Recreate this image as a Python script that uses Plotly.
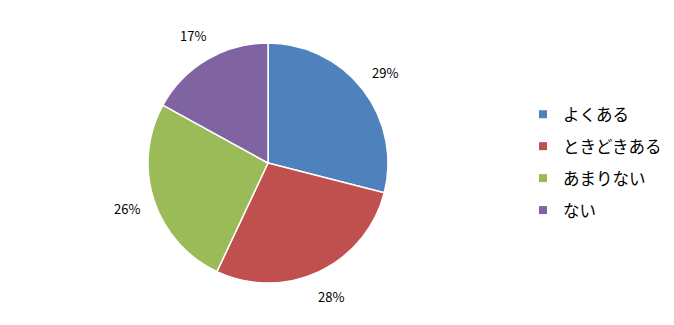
import math
import plotly.graph_objects as go

labels = ["よくある", "ときどきある", "あまりない", "ない"]
values = [29, 28, 26, 17]
colors = ["#4F81BD", "#C0504D", "#9BBB59", "#8064A2"]

W, H = 674, 325
cx, cy, R = 268, 163, 120
label_r = 148

fig = go.Figure(go.Pie(
    labels=labels, values=values, sort=False, direction="clockwise", rotation=0,
    marker=dict(colors=colors, line=dict(color="white", width=1.5)),
    textinfo="none", hoverinfo="label+percent", showlegend=False,
    domain=dict(x=[(cx - R) / W, (cx + R) / W], y=[1 - (cy + R) / H, 1 - (cy - R) / H]),
))

# legend entries (one group per category for Excel-like spacing)
for lab, col in zip(labels, colors):
    fig.add_trace(go.Scatter(
        x=[None], y=[None], mode="markers", name=lab, legendgroup=lab,
        marker=dict(symbol="square", size=8, color=col), hoverinfo="skip",
    ))

total = sum(values)
cum = 0
annotations = []
for v in values:
    mid = 90 - (cum + v / 2) / total * 360
    cum += v
    a = math.radians(mid)
    x = (cx + label_r * math.cos(a)) / W
    y = 1 - (cy - label_r * math.sin(a)) / H
    annotations.append(dict(x=x, y=y, xref="paper", yref="paper", showarrow=False,
                            xanchor="center", yanchor="middle",
                            text=f"{round(v / total * 100)}%",
                            font=dict(family="Noto Sans CJK JP", size=13, color="black")))

fig.update_layout(
    width=W, height=H, margin=dict(l=0, r=0, t=0, b=0),
    paper_bgcolor="white", plot_bgcolor="white",
    annotations=annotations,
    xaxis=dict(visible=False), yaxis=dict(visible=False),
    legend=dict(x=0.776, y=0.5, yanchor="middle", xanchor="left",
                font=dict(family="Noto Sans CJK JP", size=16.5, color="black"),
                tracegroupgap=7.5, itemwidth=30),
    showlegend=True,
)
fig.write_html("out.html")
